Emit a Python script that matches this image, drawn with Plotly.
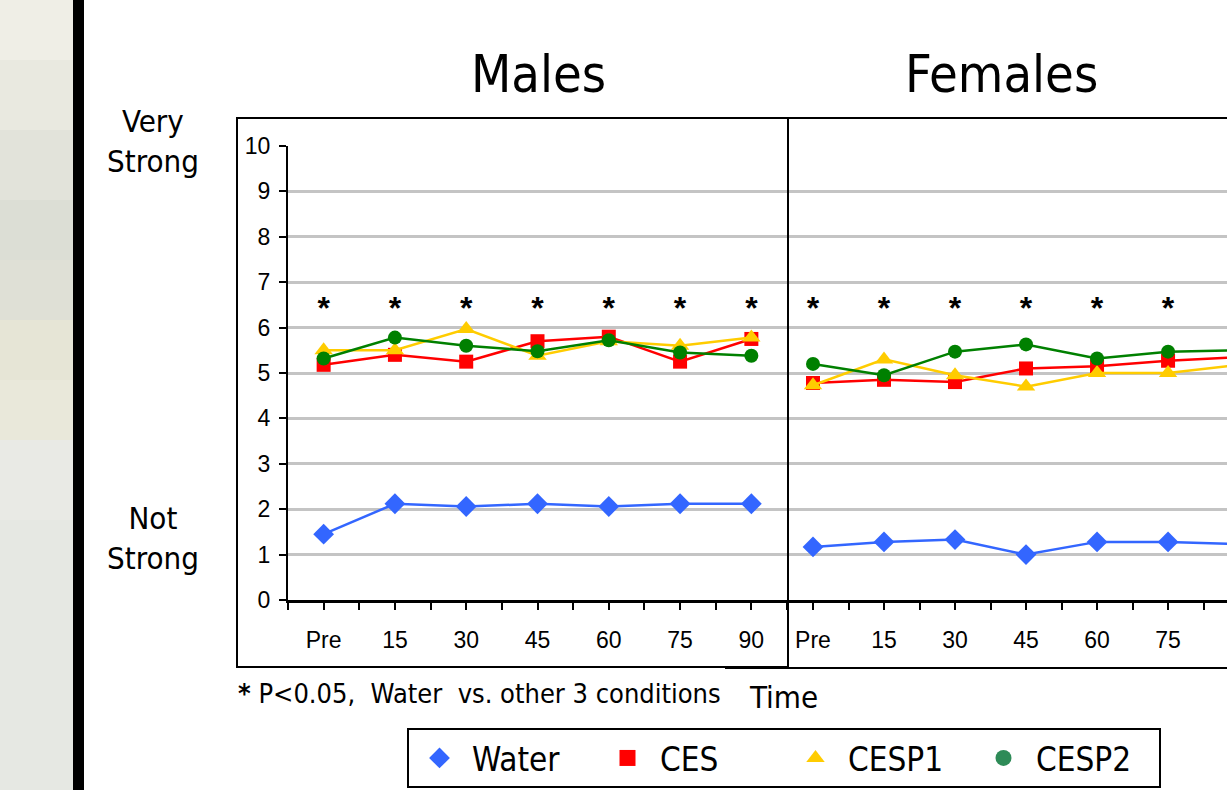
import plotly.graph_objects as go

# ---------------- data ----------------
times = ["Pre", "15", "30", "45", "60", "75", "90"]
series_names = ["Water", "CES", "CESP1", "CESP2"]
series_colors = ["#3366ff", "#ff0000", "#ffcc00", "#008000"]
legend_colors = ["#3366ff", "#ff0000", "#ffcc00", "#2e8b57"]
series_symbols = ["diamond", "square", "triangle-up", "circle"]
series_sizes = [16, 14, 16, 14]

males_water = [1.45, 2.12, 2.06, 2.12, 2.06, 2.12, 2.12]
males_ces = [5.18, 5.40, 5.25, 5.70, 5.80, 5.25, 5.75]
males_cesp1 = [5.50, 5.50, 5.97, 5.38, 5.70, 5.60, 5.78]
males_cesp2 = [5.32, 5.78, 5.60, 5.48, 5.72, 5.45, 5.38]

females_water = [1.17, 1.28, 1.33, 1.00, 1.28, 1.28, 1.23]
females_ces = [4.78, 4.85, 4.80, 5.10, 5.15, 5.27, 5.35]
females_cesp1 = [4.73, 5.30, 4.95, 4.70, 5.00, 5.00, 5.18]
females_cesp2 = [5.20, 4.95, 5.47, 5.63, 5.32, 5.47, 5.50]

males_sig = [True, True, True, True, True, True, True]
females_sig = [True, True, True, True, True, True, False]
sig_level = 6.36

y_ticks = list(range(0, 11))

males = [males_water, males_ces, males_cesp1, males_cesp2]
females = [females_water, females_ces, females_cesp1, females_cesp2]

# ---------------- figure ----------------
W, H = 1227, 790
def px(x):
    return x / W
def py(y):
    return 1 - y / H

TAHOMA = "DejaVu Sans Condensed, DejaVu Sans, sans-serif"
ARIAL = "Liberation Sans, Arial, sans-serif"

idx = list(range(len(times)))
fig = go.Figure()

for name, color, sym, size, m_vals, f_vals in zip(series_names, series_colors, series_symbols,
                                                  series_sizes, males, females):
    fig.add_trace(go.Scatter(
        x=idx, y=m_vals, mode="lines+markers", name=name, legendgroup=name,
        line=dict(color=color, width=2.5),
        marker=dict(symbol=sym, size=size, color=color),
        xaxis="x", yaxis="y", showlegend=False))
    fig.add_trace(go.Scatter(
        x=idx, y=f_vals, mode="lines+markers", name=name, legendgroup=name,
        line=dict(color=color, width=2.5),
        marker=dict(symbol=sym, size=size, color=color),
        xaxis="x2", yaxis="y2", showlegend=False))

# legend entries (marker only, like the original key)
for name, color, sym in zip(series_names, legend_colors, series_symbols):
    fig.add_trace(go.Scatter(
        x=[None], y=[None], mode="markers", name=name, legendgroup=name,
        marker=dict(symbol=sym, size=16, color=color),
        xaxis="x", yaxis="y", showlegend=True))

# significance asterisks
fig.add_trace(go.Scatter(
    x=[i for i, s in zip(idx, males_sig) if s],
    y=[sig_level for s in males_sig if s],
    mode="text", text=["<b>*</b>"] * sum(males_sig),
    textfont=dict(family=ARIAL, size=32, color="black"),
    textposition="middle center", xaxis="x", yaxis="y", showlegend=False, hoverinfo="skip"))
fig.add_trace(go.Scatter(
    x=[i for i, s in zip(idx, females_sig) if s],
    y=[sig_level for s in females_sig if s],
    mode="text", text=["<b>*</b>"] * sum(females_sig),
    textfont=dict(family=ARIAL, size=32, color="black"),
    textposition="middle center", xaxis="x2", yaxis="y2", showlegend=False, hoverinfo="skip"))

boundaries = [i - 0.5 for i in range(len(times) + 1)]
y_dom = [py(600), py(146)]

common_x = dict(
    tickmode="array", tickvals=idx, ticktext=times,
    ticks="outside", ticklen=7, tickwidth=2, tickcolor="black",
    tickfont=dict(family=ARIAL, size=23, color="black"),
    ticklabelstandoff=10,
    showline=True, linecolor="black", linewidth=3,
    showgrid=False, zeroline=False, automargin=False,
    minor=dict(tickvals=boundaries, ticks="outside", ticklen=7, tickwidth=2,
               tickcolor="black", showgrid=False),
    fixedrange=True,
)
fig.update_layout(
    xaxis=dict(domain=[px(288), px(787)], range=[-0.5, 6.5], anchor="y", **common_x),
    xaxis2=dict(domain=[px(788), 1.0], range=[-0.352, 5.83], anchor="y2", **common_x),
    yaxis=dict(domain=y_dom, range=[0, 10], anchor="x", automargin=False,
               tickmode="array", tickvals=y_ticks,
               ticks="outside", ticklen=7, tickwidth=2, tickcolor="black",
               tickfont=dict(family=ARIAL, size=23, color="black"),
               ticklabelstandoff=4,
               showline=True, linecolor="black", linewidth=2,
               showgrid=True, gridcolor="#c4c4c4", gridwidth=3, zeroline=False),
    yaxis2=dict(domain=y_dom, range=[0, 10], anchor="x2", automargin=False,
                tickmode="array", tickvals=y_ticks, showticklabels=False, ticks="",
                showline=False,
                showgrid=True, gridcolor="#c4c4c4", gridwidth=3, zeroline=False),
)

# soft photographic strip on the left (approximated by gentle tonal bands)
strip_bands = [(0, 60, "#efeee6"), (60, 130, "#e9e9e0"), (130, 200, "#e2e3da"),
               (200, 260, "#dcded5"), (260, 320, "#dfe0d6"), (320, 380, "#e6e5d6"),
               (380, 440, "#e9e8da"), (440, 520, "#e9eae5"), (520, 790, "#e6e8e3")]
shapes = []
for y0, y1, c in strip_bands:
    shapes.append(dict(type="rect", xref="paper", yref="paper", x0=0, x1=px(73),
                       y0=py(y1), y1=py(y0), fillcolor=c, line=dict(width=0), layer="below"))
shapes += [
    dict(type="rect", xref="paper", yref="paper", x0=px(73), x1=px(84), y0=0, y1=1,
         fillcolor="black", line=dict(width=0), layer="below"),
    # male chart box
    dict(type="rect", xref="paper", yref="paper", x0=px(237), x1=px(788), y0=py(667), y1=py(118),
         fillcolor="rgba(0,0,0,0)", line=dict(color="black", width=2)),
    # female chart box edges
    dict(type="line", xref="paper", yref="paper", x0=px(788), x1=1, y0=py(118), y1=py(118),
         line=dict(color="black", width=2)),
    dict(type="line", xref="paper", yref="paper", x0=px(725), x1=1, y0=py(668), y1=py(668),
         line=dict(color="black", width=2)),
]

annotations = [
    dict(text="Males", x=px(538), y=py(74), font=dict(family=TAHOMA, size=52, color="black")),
    dict(text="Females", x=px(1001), y=py(74), font=dict(family=TAHOMA, size=52, color="black")),
    dict(text="Very<br>Strong", x=px(153), y=py(141), font=dict(family=TAHOMA, size=31, color="black")),
    dict(text="Not<br>Strong", x=px(153), y=py(538), font=dict(family=TAHOMA, size=31, color="black")),
    dict(text="<b>*</b> P&lt;0.05,&nbsp; Water&nbsp; vs. other 3 conditions", x=px(236), y=py(693),
         xanchor="left", font=dict(family=TAHOMA, size=27, color="black")),
    dict(text="Time", x=px(783), y=py(697), font=dict(family=TAHOMA, size=31, color="black")),
]
for a in annotations:
    a.setdefault("xanchor", "center")
    a.update(xref="paper", yref="paper", yanchor="middle", showarrow=False)

fig.update_layout(
    width=W, height=H, margin=dict(l=0, r=0, t=0, b=0, autoexpand=False),
    paper_bgcolor="white", plot_bgcolor="white",
    shapes=shapes, annotations=annotations,
    showlegend=True,
    legend=dict(orientation="h", x=px(407), y=py(728), xanchor="left", yanchor="top",
                bordercolor="black", borderwidth=2, bgcolor="white",
                font=dict(family=TAHOMA, size=33, color="black"),
                itemwidth=55, entrywidth=118, entrywidthmode="pixels",
                tracegroupgap=0),
    hovermode=False,
)

fig.write_html("out.html", config={"displayModeBar": False},
               post_script="document.body.style.margin='0';document.body.style.overflow='hidden';")
